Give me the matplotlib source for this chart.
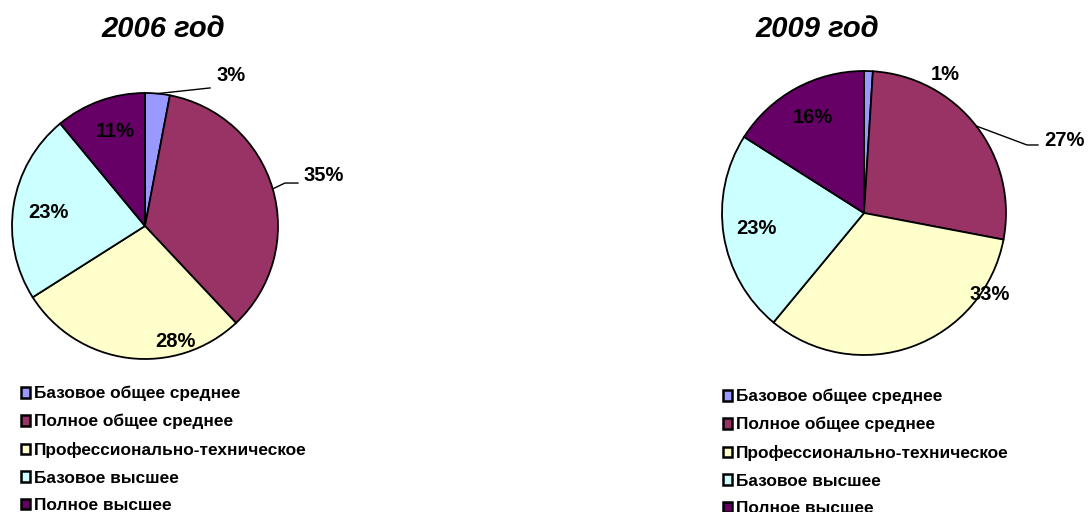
import matplotlib
matplotlib.use("Agg")
import matplotlib.pyplot as plt
import numpy as np

plt.rcParams['font.family'] = ['Liberation Sans', 'DejaVu Sans']

categories = ["Базовое общее среднее", "Полное общее среднее",
              "Профессионально-техническое", "Базовое высшее", "Полное высшее"]
colors = ["#9999FF", "#993366", "#FFFFCC", "#CCFFFF", "#660066"]

values_2006 = [3, 35, 28, 23, 11]
values_2009 = [1, 27, 33, 23, 16]
titles = ["2006 год", "2009 год"]

# label positions in units of pie radius (layout only)
label_pos_2006 = [(0.647, 1.128), (1.346, 0.376), (0.226, -0.872), (-0.729, 0.105), (-0.226, 0.707)]
label_pos_2009 = [(0.570, 0.972), (1.415, 0.514), (0.887, -0.577), (-0.754, -0.106), (-0.359, 0.676)]
# leader lines: index of wedge -> intermediate points
leaders_2006 = {0: [(0.489, 1.038)], 1: [(1.052, 0.323), (1.15, 0.323)]}
leaders_2009 = {1: [(1.148, 0.479), (1.225, 0.479)]}

W, H = 1088, 512
fig = plt.figure(figsize=(W / 100, H / 100), dpi=100)


def draw_pie(cx, cy, r, values, label_pos, leaders, title, title_xy, legend_xy):
    ax = fig.add_axes([(cx - r) / W, (H - cy - r) / H, 2 * r / W, 2 * r / H])
    wedges, _ = ax.pie(values, colors=colors, startangle=90, counterclock=False,
                       radius=1, wedgeprops=dict(edgecolor="black", linewidth=1.3))
    ax.set_xlim(-1, 1)
    ax.set_ylim(-1, 1)
    ax.axis("off")
    for i, (w, v) in enumerate(zip(wedges, values)):
        x, y = label_pos[i]
        ax.text(x, y, f"{v}%", ha="center", va="center", fontsize=14.5,
                fontweight="bold", clip_on=False)
        if i in leaders:
            mid = np.deg2rad((w.theta1 + w.theta2) / 2)
            pts = [(np.cos(mid), np.sin(mid))] + leaders[i]
            xs, ys = zip(*pts)
            ax.plot(xs, ys, color="black", lw=1.0, clip_on=False)
    fig.text(title_xy[0] / W, 1 - title_xy[1] / H, title, ha="center", va="center",
             fontsize=21, fontweight="bold", fontstyle="italic")
    leg = ax.legend(wedges, categories, loc="upper left",
                    bbox_to_anchor=(legend_xy[0] / W, 1 - legend_xy[1] / H),
                    bbox_transform=fig.transFigure, frameon=False,
                    prop=dict(size=12.4, weight="bold"), handlelength=0.55,
                    handleheight=0.55, handletextpad=0.2, labelspacing=0.73,
                    borderpad=0, borderaxespad=0)
    for h in leg.legend_handles:
        h.set_linewidth(1.8)
    return ax


draw_pie(145, 226, 133, values_2006, label_pos_2006, leaders_2006,
         titles[0], (163, 29), (21, 386))
draw_pie(864, 213, 142, values_2009, label_pos_2009, leaders_2009,
         titles[1], (817, 29), (723, 389))

fig.savefig("out.png", dpi=100)
